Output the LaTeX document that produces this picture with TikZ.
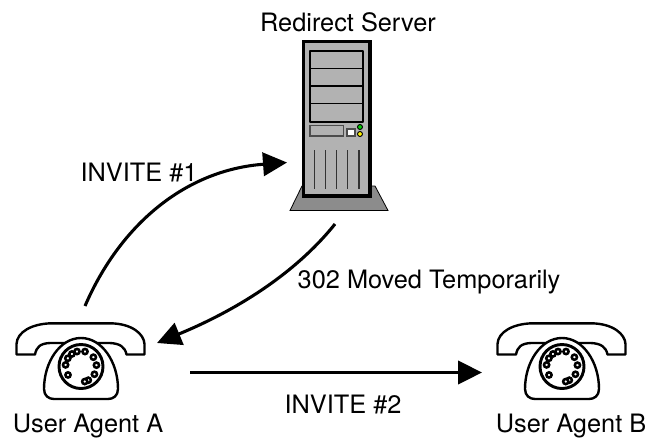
\documentclass[tikz,border=0pt]{standalone}
\usepackage{fontspec}
\setmainfont{TeX Gyre Heros}
\usetikzlibrary{arrows.meta}
\tikzset{
  x=0.75pt,y=-0.75pt,
  lbl/.style={font=\fontsize{19}{21}\selectfont,inner sep=0pt,text=black},
  flow/.style={draw=black,line width=2.3pt,-{Triangle[length=18pt,width=17.5pt]},shorten >=0pt},
  ol/.style={draw=black,line width=1.3pt,line join=round},
  phoneline/.style={draw=black,line width=1.8pt,line join=round},
  pics/phone/.style={code={
    % handset
    \draw[phoneline,fill=white] (16.5,44.5) -- (16.5,34) .. controls (17,22) and (32,13.5) .. (52,13.3)
      -- (110,13.3) .. controls (132,13.5) and (144,24) .. (144.5,34) -- (144.5,44.5)
      -- (126.5,44.5) .. controls (125,37) and (120,33.5) .. (110,33)
      -- (50,33) .. controls (40,33.5) and (36.5,37) .. (35,44.5) -- cycle;
    % body
    \draw[phoneline,fill=white] (44,79) .. controls (44,52) and (60,28) .. (81,28)
      .. controls (102,28) and (118,52) .. (118,79)
      .. controls (118,86) and (113,89) .. (108,89) -- (54,89)
      .. controls (49,89) and (44,86) .. (44,79) -- cycle;
    % dial
    \draw[phoneline,line width=2.2pt,fill=white] (81,56.5) circle (22);
    \foreach \a in {147,186,212,234,255,285,323,355,30,62,76}{
      \draw[draw=black,line width=1.9pt,fill=white] ({81+15.5*cos(\a)},{56.5+15.5*sin(\a)}) circle (2.6);
    }
  }}
}
\begin{document}
\begin{tikzpicture}
\useasboundingbox (0,0) rectangle (645,439);
% server
\draw[draw=black,line width=0.6pt,fill=black!45] (302,186) -- (375,186) -- (388,210.5) -- (290,210.5) -- cycle;
\draw[draw=black,line width=2.4pt,fill=black!30] (303.5,41.5) rectangle (370,196);
\draw[ol,fill=black!30] (310,51) rectangle (363,122);
\foreach \y in {68.5,86,103.5}{\draw[draw=black,line width=1.2pt] (310,\y) -- (363,\y);}
\draw[draw=black!70,line width=1.3pt] (310,125.5) rectangle (343.5,136);
\draw[draw=black!70,line width=1.3pt,fill=white] (347,129) rectangle (355,136);
\draw[draw=black,line width=0.7pt,fill=green!80!black] (360,127) circle (2.5);
\draw[draw=black,line width=0.7pt,fill=yellow] (360,134) circle (2.5);
\foreach \x in {314.5,325.5,336.5,347.5,359}{\draw[draw=black!80,line width=1.1pt] (\x,150) -- (\x,188.5);}
% phones
\pic (pa) at (0,310) {phone};
\pic (pb) at (481,310) {phone};
% labels
\node[lbl] (server) at (348,22.5) {Redirect Server};
\node[lbl] (i1) at (139,172.5) {INVITE \#1};
\node[lbl] (moved) at (429,282) {302 Moved Temporarily};
\node[lbl] (i2) at (343,405) {INVITE \#2};
\node[lbl] (ua) at (88,426) {User Agent A};
\node[lbl] (ub) at (571,426) {User Agent B};
% connectors
\coordinate (a1) at (85,306);
\coordinate (s1) at (287,162.5);
\coordinate (s2) at (335,224);
\coordinate (a2) at (157,343);
\coordinate (a3) at (190,372.5);
\coordinate (b3) at (482,372.5);
\draw[flow] (a1) .. controls (120,225) and (185,170) .. (s1);
\draw[flow] (s2) .. controls (290,280) and (225,315) .. (a2);
\draw[flow] (a3) -- (b3);
\end{tikzpicture}
\end{document}
